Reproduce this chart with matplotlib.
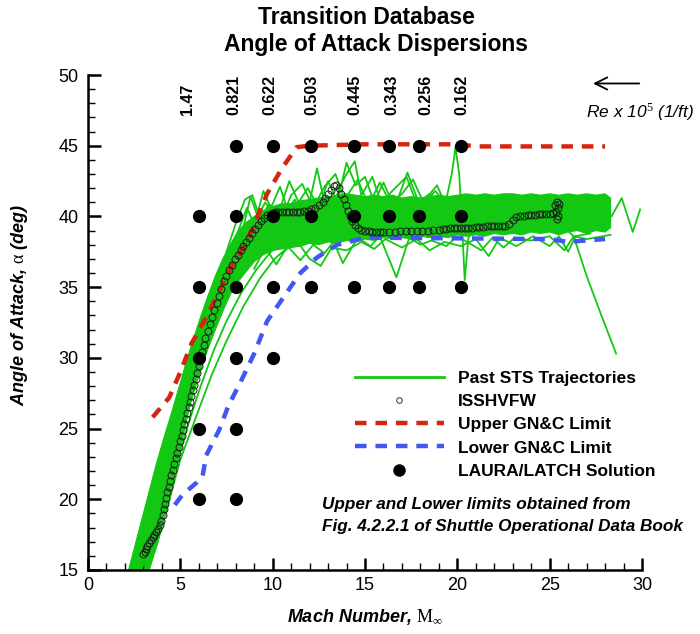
import numpy as np
import matplotlib
matplotlib.use("Agg")
import matplotlib.pyplot as plt
from matplotlib.ticker import MultipleLocator

plt.rcParams['font.family'] = ['Liberation Sans', 'DejaVu Sans']
plt.rcParams['mathtext.fontset'] = 'custom'
plt.rcParams['mathtext.rm'] = 'Liberation Serif'
plt.rcParams['mathtext.it'] = 'Liberation Sans:italic'

# ---------------------------------
# DATA
# ---------------------------------
# LAURA/LATCH solution points (Mach, alpha)
laura_mach = [8, 10, 12.1, 14.4, 16.3, 17.9, 20.2,
              6, 8, 10, 12.1, 14.4, 16.3, 17.9, 20.2,
              6, 8, 10, 12.1, 14.4, 16.3, 17.9, 20.2,
              6, 8, 10,
              6, 8,
              6, 8]
laura_alpha = [45, 45, 45, 45, 45, 45, 45,
               40, 40, 40, 40, 40, 40, 40, 40,
               35, 35, 35, 35, 35, 35, 35, 35,
               30, 30, 30,
               25, 25,
               20, 20]

# Reynolds number labels above the columns
re_labels = ["1.47", "0.821", "0.622", "0.503", "0.445", "0.343", "0.256", "0.162"]
re_mach = [5.4, 7.9, 9.85, 12.1, 14.45, 16.45, 18.3, 20.25]

# Upper GN&C limit
upper_mach = [3.5, 4.4, 5.0, 5.6, 6.5, 7.7, 8.6, 9.7, 10.5, 11.3, 12.0, 15.0, 20.0, 21.0, 28.0]
upper_alpha = [25.8, 27.2, 29.0, 31.0, 33.1, 36.3, 38.2, 41.6, 43.4, 44.9, 45.0, 45.1, 45.1, 44.95, 44.95]

# Lower GN&C limit
lower_mach = [4.7, 5.1, 5.9, 6.2, 6.4, 7.1, 7.6, 8.3, 9.0, 9.7, 10.7, 11.5, 12.4, 13.5, 15.0, 25.0, 26.0, 28.0]
lower_alpha = [19.6, 20.3, 21.2, 21.6, 23.1, 24.9, 26.6, 28.4, 30.3, 32.6, 34.5, 36.0, 37.1, 38.0, 38.5, 38.4, 38.2, 38.4]

# ISSHVFW trajectory
iss_mach = [3.00, 3.06, 3.12, 3.20, 3.30, 3.40, 3.50, 3.60, 3.70, 3.80, 3.90, 3.98, 4.05, 4.10, 4.16,
            4.22, 4.30, 4.38, 4.45, 4.52, 4.60, 4.68, 4.76, 4.84, 4.92, 5.00, 5.08, 5.15, 5.22, 5.30,
            5.38, 5.45, 5.52, 5.60, 5.68, 5.76, 5.84, 5.92, 6.00, 6.08, 6.16, 6.26, 6.36, 6.48, 6.60,
            6.72, 6.84, 6.96, 7.08, 7.20, 7.34, 7.48, 7.62, 7.78, 7.94, 8.10, 8.26, 8.42, 8.58, 8.74,
            8.90, 9.05, 9.20, 9.36, 9.52, 9.70, 9.90,
            10.1, 10.3, 10.5, 10.7, 10.9, 11.1, 11.3, 11.5, 11.7, 11.9, 12.1, 12.3, 12.5, 12.7, 12.85,
            13.0, 13.15, 13.3, 13.45, 13.6, 13.72, 13.84, 13.96, 14.08, 14.2, 14.32, 14.46, 14.62, 14.8,
            15.0, 15.2, 15.4, 15.6, 15.8, 16.0, 16.3, 16.6, 16.9, 17.2, 17.5, 17.8, 18.1, 18.4, 18.7,
            19.0, 19.2, 19.4, 19.6, 19.8, 20.0, 20.2, 20.4, 20.6, 20.8, 21.0, 21.2, 21.4, 21.6, 21.8,
            22.0, 22.2, 22.4, 22.6, 22.8, 23.0, 23.2, 23.4, 23.6, 23.8, 24.0, 24.2, 24.4, 24.6, 24.8,
            25.0, 25.2, 25.35, 25.45, 25.5, 25.4, 25.3, 25.45, 25.4]
iss_alpha = [16.1, 16.3, 16.5, 16.7, 16.9, 17.1, 17.3, 17.5, 17.7, 17.9, 18.2, 18.5, 18.9, 19.3, 19.7,
             20.1, 20.5, 20.9, 21.3, 21.7, 22.1, 22.5, 22.9, 23.3, 23.7, 24.1, 24.5, 24.9, 25.3, 25.7,
             26.1, 26.5, 26.9, 27.3, 27.7, 28.1, 28.5, 28.9, 29.4, 29.9, 30.4, 30.9, 31.4, 31.9, 32.4,
             32.9, 33.4, 33.9, 34.4, 34.9, 35.4, 35.8, 36.2, 36.6, 37.0, 37.3, 37.6, 37.9, 38.2, 38.5,
             38.8, 39.1, 39.4, 39.7, 39.9, 40.1, 40.2,
             40.3, 40.3, 40.3, 40.3, 40.3, 40.3, 40.3, 40.3, 40.35, 40.4, 40.5, 40.6, 40.8, 41.0, 41.3,
             41.6, 41.9, 42.15, 42.2, 42.0, 41.6, 41.2, 40.8, 40.4, 40.0, 39.7, 39.4, 39.2, 39.05,
             39.0, 38.95, 38.9, 38.9, 38.9, 38.9, 38.9, 38.9, 38.95, 38.95, 39.0, 39.0, 39.0, 39.0, 39.05,
             39.05, 39.1, 39.1, 39.15, 39.2, 39.2, 39.2, 39.2, 39.2, 39.2, 39.25, 39.25, 39.25, 39.3, 39.3,
             39.3, 39.3, 39.3, 39.35, 39.5, 39.75, 39.95, 40.05, 40.05, 40.1, 40.1, 40.1, 40.15, 40.15, 40.2,
             40.2, 40.25, 40.3, 40.6, 40.9, 41.0, 40.8, 40.0, 39.8]

# dense core of past STS trajectories (outline polygon)
core_mach = [2.2, 2.5, 2.9, 3.3, 3.7, 4.1, 4.5, 4.9, 5.3, 5.7, 6.1, 6.5, 6.9, 7.3, 7.7, 8.1, 8.5, 9.0,
             9.5, 10, 10.5, 11, 11.5, 12, 12.5, 13, 13.5, 14, 14.5, 15, 15.5, 16, 16.5, 17, 17.5, 18,
             18.5, 19, 19.5, 20, 20.5, 21, 21.5, 22, 22.5, 23, 23.5, 24, 24.5, 25, 25.5, 26, 26.5, 27,
             27.5, 28, 28.3,
             28.3,
             28, 27.5, 27, 26.5, 26, 25.5, 25, 24.5, 24, 23.5, 23, 22.5, 22, 21.5, 21, 20.5, 20, 19.5,
             19, 18.5, 18, 17.5, 17, 16.5, 16, 15.5, 15, 14.5, 14, 13.5, 13, 12.5, 12, 11.5, 11, 10.5,
             10, 9.5, 9.0, 8.5, 7.9, 7.4, 6.9, 6.4, 5.9, 5.5, 5.1, 4.7, 4.3, 3.8, 3.3]
core_alpha = [15, 16.5, 18.5, 20.5, 22.5, 24.3, 26, 27.8, 29.6, 31.3, 32.9, 34.4, 35.8, 37.0, 38.0, 38.9,
              39.5, 40.0, 40.4, 40.7, 40.9, 40.9, 41.1, 41.2, 41.3, 41.4, 41.5, 41.6, 41.5, 41.4, 41.5,
              41.4, 41.5, 41.3, 41.4, 41.3, 41.4, 41.5, 41.4, 41.5, 41.6, 41.5, 41.6, 41.5, 41.6, 41.6,
              41.5, 41.6, 41.5, 41.6, 41.5, 41.6, 41.5, 41.6, 41.5, 41.6, 41.3,
              39.2,
              38.9, 39.0, 38.8, 39.0, 38.9, 38.7, 38.9, 38.8, 38.9, 38.7, 38.8, 38.7, 38.8, 38.6, 38.7,
              38.6, 38.7, 38.5, 38.6, 38.5, 38.6, 38.4, 38.5, 38.4, 38.5, 38.3, 38.4, 38.2, 38.3, 38.1,
              38.2, 38.0, 38.1, 37.9, 37.8, 37.7, 37.6, 37.3, 36.8, 36.0, 35.0, 33.6, 32.0, 30.3, 28.3,
              26.5, 24.2, 22.0, 19.6, 17.0, 15.0]

# individual trajectories that stand out of the core
traj_mach = [
    [2.9, 3.6, 4.3, 4.9, 5.5, 6.2, 6.9, 7.6, 8.4, 9.2, 10.0, 11.0, 12.0],
    [3.1, 3.9, 4.7, 5.4, 6.1, 6.8, 7.5, 8.3, 9.1, 9.9, 10.7, 11.6],
    [3.3, 4.2, 5.0, 5.9, 6.7, 7.5, 8.4, 9.3, 10.1, 11.0, 12.0],
    [7.5, 8.0, 8.5, 8.9, 9.2, 9.5, 9.9, 10.4, 10.8, 11.2, 11.6, 12.0, 12.4, 12.8, 13.2, 13.6, 14.0,
     14.45, 14.8, 15.4, 15.9, 16.4, 17.25, 17.8, 18.4, 18.9, 19.3, 20.0],
    [8.0, 8.6, 9.0, 9.6, 10.2, 10.9, 11.4, 11.9, 12.5, 13.0, 13.5, 14.0, 14.5, 15.0, 15.5, 16.0,
     16.6, 17.3, 17.9, 18.5, 19.2],
    [8.2, 8.8, 9.3, 9.8, 10.4, 11.0, 11.6, 12.2, 12.8, 13.4, 13.9, 14.6, 15.2, 15.8, 16.4, 17.0,
     17.6, 18.2, 18.8, 19.4],
    [9.0, 9.6, 10.2, 10.8, 11.5, 12.2, 12.8, 13.3, 13.8, 14.6, 15.3, 15.8, 16.7, 17.4, 18.0, 18.6,
     19.4, 20.0, 21.3, 21.9, 22.5, 23.1, 24.0, 25.0, 25.8, 26.3, 27.0, 28.3],
    [10.5, 11.3, 12.0, 12.6, 13.2, 14.0, 14.8, 15.5, 16.1, 17.0, 17.8, 18.5, 19.3, 20.2, 21.0, 21.7,
     22.3, 23.2, 24.1, 25.0, 25.5, 26.0, 26.4, 27.2],
    [18.8, 19.4, 19.7, 19.9, 20.1, 20.25, 20.4, 20.6, 21.2, 22.0],
    [25.0, 25.8, 26.3, 27.0, 27.8, 28.6],
    [27.5, 28.35, 28.9, 29.5, 29.9],
]
traj_alpha = [
    [15, 18, 21, 24, 27, 30, 32.5, 34.5, 36.3, 37.6, 38.4, 38.9, 39.3],
    [15, 18.5, 22, 25.2, 28, 30.5, 32.6, 34.6, 36.2, 37.5, 38.3, 38.8],
    [15, 19, 22.8, 26, 28.8, 31.2, 33.6, 35.6, 37.0, 38.0, 38.6],
    [37.5, 39.5, 41.2, 41.5, 40.3, 41.8, 40.6, 42.1, 40.5, 41.2, 40.0, 41.0, 43.4, 41.0, 40.2, 42.0,
     43.0, 43.9, 41.5, 42.8, 40.8, 41.7, 42.8, 40.9, 41.4, 42.2, 41.0, 41.2],
    [38.5, 40.6, 39.5, 41.0, 39.8, 42.5, 41.0, 42.0, 40.6, 42.5, 41.0, 43.8, 42.2, 42.8, 41.0, 42.4,
     40.6, 43.1, 41.0, 41.6, 40.8],
    [38.0, 41.4, 39.6, 40.9, 39.6, 41.5, 42.3, 40.6, 42.1, 43.0, 41.2, 42.6, 40.8, 42.4, 40.9, 41.6,
     42.6, 40.9, 41.8, 40.9],
    [36.3, 37.8, 36.6, 37.9, 36.9, 38.0, 37.4, 38.2, 36.7, 38.5, 37.9, 38.6, 35.7, 38.5, 38.0, 38.3,
     37.9, 38.6, 37.6, 38.5, 37.8, 38.5, 38.3, 38.6, 37.6, 38.6, 38.4, 38.7],
    [37.4, 38.3, 37.0, 36.5, 37.8, 37.6, 38.2, 37.7, 38.4, 37.8, 38.4, 37.6, 38.2, 37.9, 38.4, 37.2,
     38.5, 37.9, 38.6, 37.9, 38.6, 37.5, 38.6, 38.8],
    [40.5, 41.2, 43.0, 44.9, 43.0, 39.5, 35.5, 38.5, 39.5, 39.2],
    [40.2, 39.2, 38.6, 35.8, 33.0, 30.3],
    [40.5, 40.0, 41.3, 38.9, 40.5],
]

green = '#12c812'
red = '#d4260f'
blue = '#4257f2'
dash = (2.6, 2.0)

fig = plt.figure(figsize=(7.0, 6.34), dpi=100)
ax = fig.add_axes([88 / 700, 1 - 570 / 634, 554 / 700, 495 / 634])

# ---------------------------------
# PLOT
# ---------------------------------
ax.fill(core_mach, core_alpha, color=green, lw=0.8, zorder=1)
for m, a in zip(traj_mach, traj_alpha):
    ax.plot(m, a, color=green, lw=1.3, zorder=2)

ax.plot(upper_mach, upper_alpha, color=red, lw=3.2, dashes=dash, zorder=3)
ax.plot(lower_mach, lower_alpha, color=blue, lw=3.2, dashes=dash, zorder=3)
ax.plot(iss_mach, iss_alpha, ls='none', marker='o', ms=5, mfc='none',
        mec='#1a1a1a', mew=0.7, zorder=4)
ax.plot(laura_mach, laura_alpha, ls='none', marker='o', ms=8.5, color='black', zorder=5)

# legend handles (empty lines, styled like the marks)
sts_leg, = ax.plot([], [], color=green, lw=2, label="Past STS Trajectories")
iss_leg, = ax.plot([], [], ls='none', marker='o', ms=4, mfc='none', mec='#333333', mew=0.7,
                   label="ISSHVFW")
up_leg, = ax.plot([], [], color=red, lw=3.2, dashes=dash, label="Upper GN&C Limit")
lo_leg, = ax.plot([], [], color=blue, lw=3.2, dashes=dash, label="Lower GN&C Limit")
laura_leg, = ax.plot([], [], ls='none', marker='o', ms=8, color='black',
                     label="LAURA/LATCH Solution")
ax.legend(handles=[sts_leg, iss_leg, up_leg, lo_leg, laura_leg],
          loc='upper left', bbox_to_anchor=(355 / 700, 1 - 371 / 634),
          bbox_transform=fig.transFigure, frameon=False, borderpad=0, borderaxespad=0,
          handlelength=5.1, handletextpad=0.85, labelspacing=0.46,
          prop={'weight': 'bold', 'size': 12.5})

for txt, m in zip(re_labels, re_mach):
    ax.text(m, 47.2, txt, rotation=90, ha='center', va='bottom', fontsize=11.5,
            fontweight='bold')

ax.annotate("", xy=(27.2, 49.4), xytext=(30.0, 49.4),
            arrowprops=dict(arrowstyle='->', lw=1.3, color='black', mutation_scale=22),
            annotation_clip=False)
ax.text(32.8, 47.4, r"Re x 10$^{\mathit{5}}$ (1/ft)", ha='right', va='center', fontsize=12.5,
        style='italic', clip_on=False)

fig.text(322 / 700, 1 - 505 / 634, "Upper and Lower limits obtained from",
         ha='left', va='center', fontsize=12.3, fontweight='bold', style='italic')
fig.text(322 / 700, 1 - 527 / 634, "Fig. 4.2.2.1 of Shuttle Operational Data Book",
         ha='left', va='center', fontsize=12.3, fontweight='bold', style='italic')

fig.text(366 / 700, 1 - 18 / 634, "Transition Database", ha='center', va='center',
         fontsize=16.5, fontweight='bold')
fig.text(376 / 700, 1 - 45 / 634, "Angle of Attack Dispersions", ha='center', va='center',
         fontsize=16.5, fontweight='bold')

ax.set_xlim(0, 30)
ax.set_ylim(15, 50)
ax.xaxis.set_major_locator(MultipleLocator(5))
ax.xaxis.set_minor_locator(MultipleLocator(1))
ax.yaxis.set_major_locator(MultipleLocator(5))
ax.yaxis.set_minor_locator(MultipleLocator(1))
ax.tick_params(which='major', direction='in', length=9, width=1.8, labelsize=13, pad=5)
ax.tick_params(which='minor', direction='in', length=5, width=1.0)
ax.tick_params(axis='y', which='major', pad=7)
for side in ['top', 'right']:
    ax.spines[side].set_visible(False)
for side in ['left', 'bottom']:
    ax.spines[side].set_linewidth(1.8)

ax.set_xlabel(r"Mach Number, $\mathrm{M}_{\infty}$", fontsize=13, fontweight='bold',
              style='italic')
ax.set_ylabel(r"Angle of Attack, $\mathrm{\alpha}$ (deg)", fontsize=13, fontweight='bold',
              style='italic')
ax.xaxis.set_label_coords(0.5, -0.075)
ax.yaxis.set_label_coords(-0.105, 0.535)

fig.savefig("out.png", dpi=100)
